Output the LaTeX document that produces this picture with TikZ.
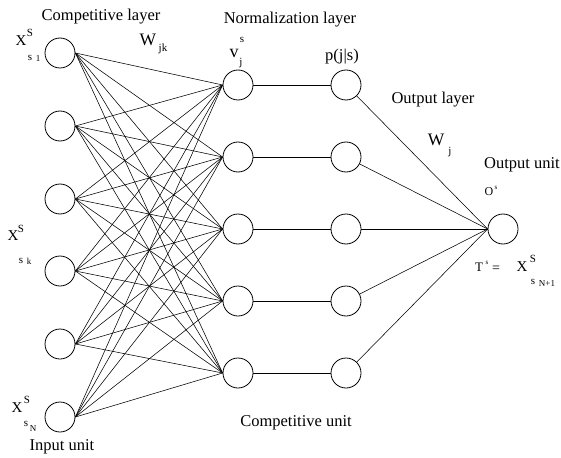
\documentclass[tikz,border=0pt]{standalone}
\usepackage{fontspec}
\setmainfont{Liberation Serif}
\begin{document}
\begin{tikzpicture}[x=1pt,y=-1pt,
  unit/.style={circle,draw,line width=0.8pt,minimum size=30pt,inner sep=0pt},
  wire/.style={line width=0.55pt},
  big/.style={font=\fontsize{16.5}{18}\selectfont,inner sep=0pt},
  sym/.style={font=\fontsize{15}{17}\selectfont,inner sep=0pt},
  sup/.style={font=\fontsize{11}{12}\selectfont,inner sep=0pt},
  tiny/.style={font=\fontsize{9}{10}\selectfont,inner sep=0pt}]
\useasboundingbox (0,0) rectangle (561,457);
% input units
\foreach \i/\y in {1/53,2/126,3/199,4/271,5/344,6/417}
  \node[unit] (in\i) at (60,\y) {};
% competitive units
\foreach \j/\y in {1/85,2/157,3/229,4/301,5/373}
  \node[unit] (c\j) at (238,\y) {};
% normalization units
\foreach \j/\y in {1/85,2/157,3/229,4/301,5/373}
  \node[unit] (n\j) at (346,\y) {};
% output unit
\node[unit] (out) at (503,229) {};
% connections
\foreach \i in {1,...,6}
  \foreach \j in {1,...,5}
    \draw[wire] (in\i.east) -- (c\j.west);
\foreach \j in {1,...,5}
  \draw[wire] (c\j.east) -- (n\j.west);
\foreach \j in {1,...,5}
  \draw[wire] (n\j) -- (out.west);
% layer labels
\node[big] (lcomp) at (101,17) {Competitive layer};
\node[big] (lnorm) at (290,20) {Normalization layer};
\node[big] (lout) at (433,100) {Output layer};
\node[big] (lunit) at (522,165) {Output unit};
\node[big] (lcu) at (296,423) {Competitive unit};
\node[big] (lin) at (62,447) {Input unit};
% weights
\node[font=\fontsize{17.5}{19}\selectfont,inner sep=0pt] (wjk) at (148,40) {W};
\node[sup] (wjks) at (163,49) {jk};
\node[font=\fontsize{18}{19}\selectfont,inner sep=0pt] (vj) at (234,53) {v};
\node[sup] (vjs) at (242,40) {s};
\node[sup] (vjj) at (241,63) {j};
\node[big] (pjs) at (342,57) {p(j|s)};
\node[font=\fontsize{17.5}{19}\selectfont,inner sep=0pt] (wj) at (436,140) {W};
\node[sup] (wjj) at (450,152) {j};
% output labels
\node[font=\fontsize{12}{13}\selectfont,inner sep=0pt] (os) at (489,192) {O};
\node[font=\fontsize{7}{8}\selectfont,inner sep=0pt] (oss) at (496,188) {s};
\node[font=\fontsize{13}{14}\selectfont,inner sep=0pt] (ts) at (479,267) {T};
\node[font=\fontsize{7}{8}\selectfont,inner sep=0pt] (tss) at (487,263) {s};
\node[font=\fontsize{14}{15}\selectfont,inner sep=0pt] (eq) at (496,269) {=};
\node[sym] (xo) at (522,267) {X};
\node[sup] (xos) at (533,259) {S};
\node[sup] (xosub) at (533,282) {s};
\node[tiny] (xosubn) at (547,284) {N+1};
% input labels
\node[sym] (x1) at (21,41) {X};
\node[sup] (x1s) at (30,33) {S};
\node[sup] (x1a) at (30,58) {s};
\node[tiny] (x1b) at (38,59) {1};
\node[sym] (xk) at (13,236) {X};
\node[sup] (xks) at (21,229) {S};
\node[sup] (xka) at (21,261) {s};
\node[tiny] (xkb) at (29,261) {k};
\node[sym] (xn) at (17,408) {X};
\node[sup] (xns) at (27,400) {S};
\node[sup] (xna) at (26,424) {s};
\node[tiny] (xnb) at (33,429) {N};
\end{tikzpicture}
\end{document}
